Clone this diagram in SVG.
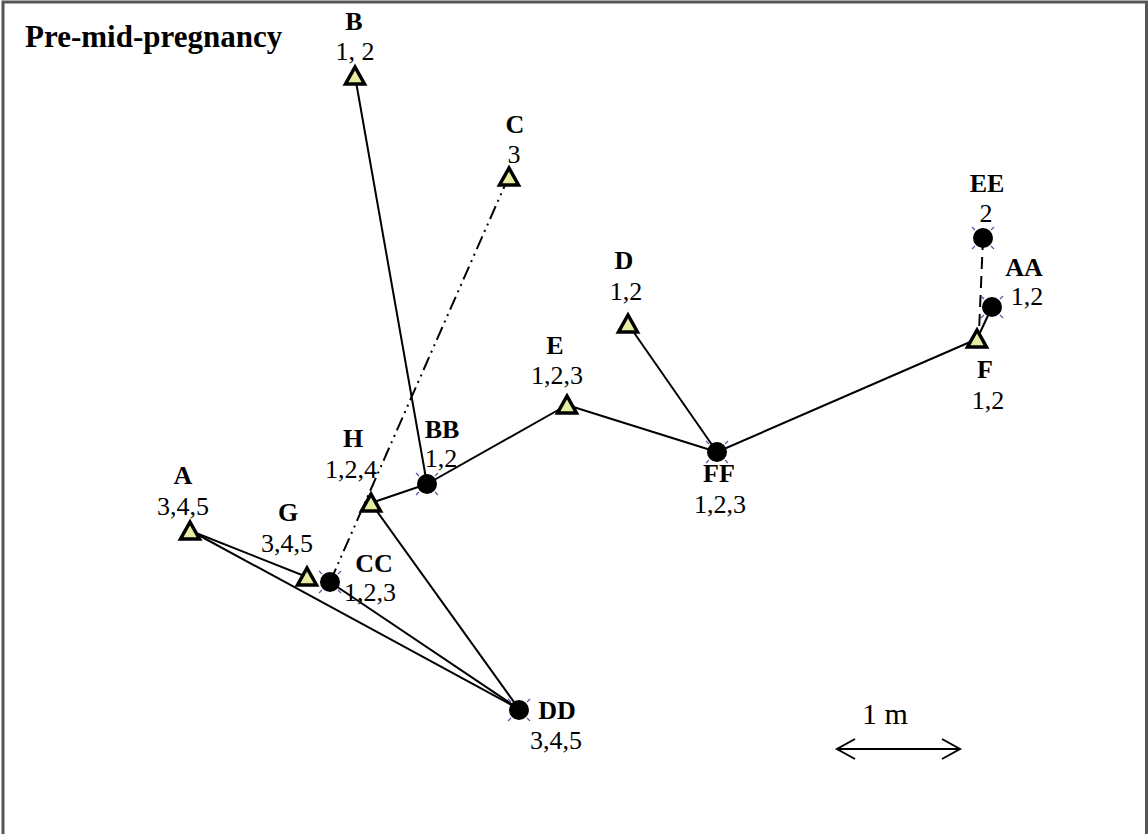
<svg xmlns="http://www.w3.org/2000/svg" width="1148" height="834" viewBox="0 0 1148 834">
<style>
text{font-family:'Liberation Serif','Times New Roman',Times,serif;fill:#000}
.lb{font-weight:bold;font-size:26px;text-anchor:middle}
.nm{font-size:26px;text-anchor:middle}
.tri{fill:#e6eda0;stroke:#000;stroke-width:3.5;stroke-linejoin:miter}
.dot{fill:#000}
.x{stroke:#6a4fa0;stroke-width:1.2}
.e{stroke:#000;stroke-width:2;fill:none}
</style>
<defs>
<g id="t"><polygon class="tri" points="0,-9 -9.5,8 9.5,8"/></g>
<g id="c"><circle class="dot" r="10"/><path class="x" d="M-11,-11l3,3M11,-11l-3,3M-11,11l3,-3M11,11l-3,-3"/></g>
</defs>
<rect width="1148" height="834" fill="#fff"/>
<path d="M3,834V2H1146.5V834" fill="none" stroke="#555" stroke-width="3"/>
<text x="25" y="47" font-weight="bold" font-size="31">Pre-mid-pregnancy</text>
<g id="connectors">
<line class="e" x1="355" y1="76" x2="427" y2="484"/>
<line class="e" x1="509" y1="176" x2="330" y2="582" stroke-dasharray="14,5,2,5,2,5"/>
<line class="e" x1="371" y1="503" x2="427" y2="484"/>
<line class="e" x1="427" y1="484" x2="567" y2="405"/>
<line class="e" x1="567" y1="405" x2="717" y2="452"/>
<line class="e" x1="628" y1="324" x2="717" y2="452"/>
<line class="e" x1="717" y1="452" x2="977" y2="339"/>
<line class="e" x1="977" y1="339" x2="992" y2="307"/>
<line class="e" x1="983" y1="238" x2="979" y2="332" stroke-dasharray="12,7"/>
<line class="e" x1="191" y1="531" x2="307" y2="577"/>
<line class="e" x1="191" y1="531" x2="519" y2="709"/>
<line class="e" x1="330" y1="582" x2="519" y2="709"/>
<line class="e" x1="371" y1="503" x2="519" y2="709"/>
</g>
<g id="B"><use href="#t" x="355" y="76"/><text class="lb" x="354" y="30">B</text><text class="nm" x="355" y="60">1, 2</text></g>
<g id="C"><use href="#t" x="509" y="177"/><text class="lb" x="515" y="133">C</text><text class="nm" x="514" y="163">3</text></g>
<g id="EE"><use href="#c" x="983" y="238"/><text class="lb" x="987" y="192">EE</text><text class="nm" x="986" y="222">2</text></g>
<g id="AA"><use href="#c" x="992" y="307"/><text class="lb" x="1024" y="276">AA</text><text class="nm" x="1027" y="305">1,2</text></g>
<g id="F"><use href="#t" x="977" y="339"/><text class="lb" x="985" y="378">F</text><text class="nm" x="988" y="409">1,2</text></g>
<g id="D"><use href="#t" x="628" y="324"/><text class="lb" x="624" y="269">D</text><text class="nm" x="626" y="300">1,2</text></g>
<g id="E"><use href="#t" x="567" y="405"/><text class="lb" x="555" y="354">E</text><text class="nm" x="557" y="384">1,2,3</text></g>
<g id="FF"><use href="#c" x="717" y="452"/><text class="lb" x="719" y="482">FF</text><text class="nm" x="720" y="513">1,2,3</text></g>
<g id="BB"><use href="#c" x="427" y="484"/><text class="lb" x="442" y="438">BB</text><text class="nm" x="441" y="467">1,2</text></g>
<g id="H"><use href="#t" x="371" y="503"/><text class="lb" x="353" y="447">H</text><text class="nm" x="351" y="478">1,2,4</text></g>
<g id="A"><use href="#t" x="190" y="531"/><text class="lb" x="183" y="484">A</text><text class="nm" x="183" y="515">3,4,5</text></g>
<g id="G"><use href="#t" x="307" y="577"/><text class="lb" x="288" y="521">G</text><text class="nm" x="287" y="552">3,4,5</text></g>
<g id="CC"><use href="#c" x="330" y="582"/><text class="lb" x="374" y="572">CC</text><text class="nm" x="370" y="601">1,2,3</text></g>
<g id="DD"><use href="#c" x="519" y="710"/><text class="lb" x="557" y="719">DD</text><text class="nm" x="556" y="749">3,4,5</text></g>
<g id="scale">
<text x="885" y="724" font-size="30" text-anchor="middle">1 m</text>
<path d="M837,749H960M855,739l-18,10l18,10M942,739l18,10l-18,10" fill="none" stroke="#000" stroke-width="2"/>
</g>
</svg>
